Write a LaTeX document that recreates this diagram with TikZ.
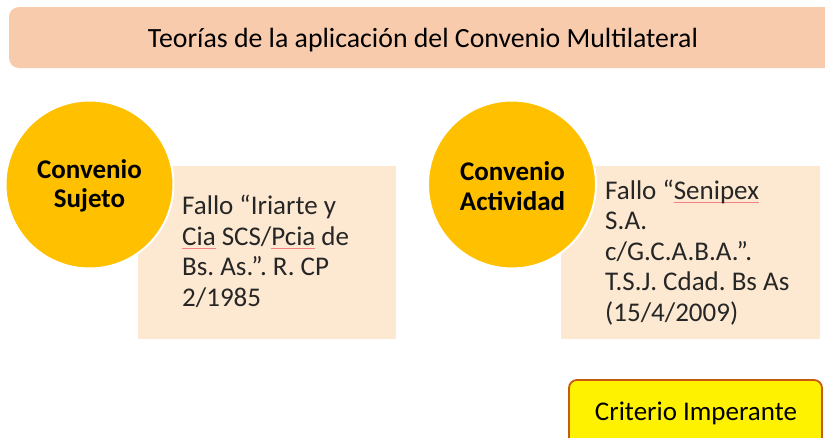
\documentclass[tikz,border=0pt]{standalone}
\usepackage{fontspec}
\setmainfont{Carlito}
\frenchspacing
\definecolor{titlefill}{RGB}{248,203,173}
\definecolor{boxfill}{RGB}{253,233,209}
\definecolor{circfill}{RGB}{255,192,0}
\definecolor{textgray}{RGB}{38,38,38}
\definecolor{critborder}{RGB}{197,90,17}
\definecolor{squigred}{RGB}{245,130,130}
\newcommand\squig[1]{\setbox0\hbox{#1}\rlap{\textcolor{squigred}{\rule[-3.5pt]{\wd0}{0.7pt}}}#1}
\tikzset{
  titlebox/.style={fill=titlefill, draw=none, rounded corners=10pt},
  casebox/.style={fill=boxfill, draw=none},
  theory/.style={circle, fill=circfill, draw=white, line width=2pt, minimum size=168pt, inner sep=0pt},
  theorytext/.style={font=\fontsize{27}{29.5}\selectfont\bfseries, align=center, text=black, inner sep=0pt},
  casetext/.style={font=\fontsize{27}{30.5}\selectfont, align=left, text=textgray, inner sep=0pt, anchor=base west},
  critbox/.style={fill=yellow, draw=critborder, line width=1.8pt, rounded corners=8pt},
}
\begin{document}
\begin{tikzpicture}[x=1pt,y=-1pt]
\useasboundingbox (0,0) rectangle (825,437);
\clip (0,0) rectangle (825,437);
% title
\draw[titlebox] (9,7) rectangle (845,68);
\node[font=\fontsize{27.8}{30}\selectfont, text=black, inner sep=0pt] (title) at (423,40) {Teorías de la aplicación del Convenio Multilateral};
% case boxes
\draw[casebox] (138,166) rectangle (396,339);
\draw[casebox] (561,166) rectangle (820,339);
% circles
\node[theory] (c1) at (89.5,184.5) {};
\node[theory] (c2) at (512,184.5) {};
\node[theorytext] (t1) at (89.5,186) {Convenio\\Sujeto};
\node[theorytext] (t2) at (512.5,186) {Convenio\\Actividad};
% case texts (anchor at the baseline of the last line)
\node[casetext] (f1) at (182,306) {Fallo “Iriarte y\\\squig{Cia} SCS/\squig{Pcia} de\\Bs. As.”. R. CP\\2/1985};
\node[casetext] (f2) at (605,321) {Fallo “\squig{Senipex}\\S.A.\\c/G.C.A.B.A.”.\\T.S.J. Cdad. Bs As\\(15/4/2009)};
% criterio
\draw[critbox] (569,380) rectangle (822,450);
\node[font=\fontsize{27}{30}\selectfont, text=black, inner sep=0pt, anchor=base] (crit) at (696,420) {Criterio Imperante};
\end{tikzpicture}
\end{document}
